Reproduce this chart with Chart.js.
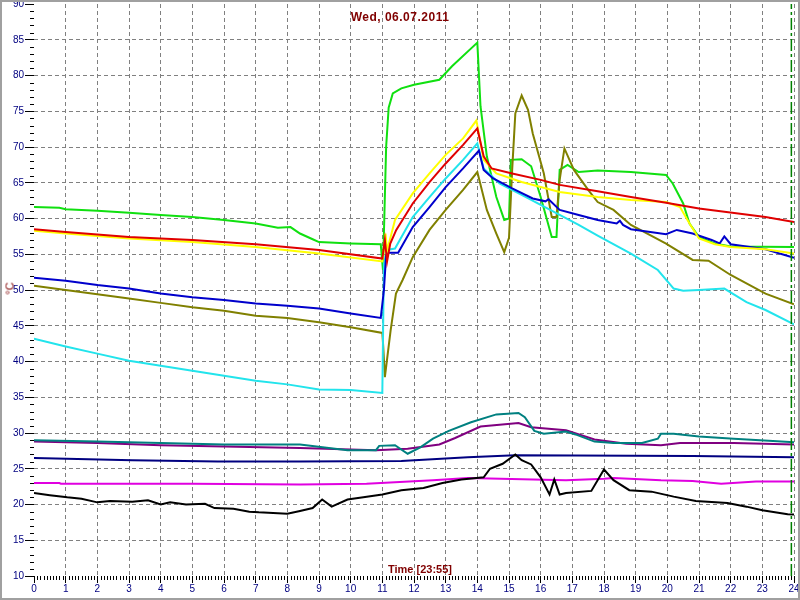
<!DOCTYPE html>
<html lang="de">
<head>
    <meta charset="UTF-8">
    <title>Wed, 06.07.2011</title>
    <script src="https://cdn.jsdelivr.net/npm/chart.js"></script>
    <style>
        body { margin: 0; background: #fff; }
        .wrap { position: relative; width: 800px; height: 600px; }
        canvas { position: absolute; left: 0; top: 0; }
        .lbl {
            position: absolute;
            font-family: "Liberation Sans", Arial, sans-serif;
            color: #800000;
            white-space: nowrap;
        }
        #title { left: 300px; width: 200px; top: 10px; text-align: center; font-size: 12px; font-weight: bold; letter-spacing: 0.5px; line-height: 14px; }
        #xtitle { left: 370px; width: 100px; top: 563px; text-align: center; font-size: 11px; font-weight: bold; line-height: 13px; }
        #ytitle { left: 0px; width: 20px; top: 282px; height: 13px; text-align: center; font-size: 11px; line-height: 13px; transform: rotate(-90deg); }
    </style>
</head>
<body>
<div class="wrap">
    <canvas id="tempChart" width="800" height="600"></canvas>
    <div class="lbl" id="title">Wed, 06.07.2011</div>
    <div class="lbl" id="xtitle">Time [23:55]</div>
    <div class="lbl" id="ytitle">°C</div>
</div>

<script>
    // Messwerte [Stunde, °C]
    const greenPts = [[0,61.6],[0.8,61.5],[1,61.3],[2,61.1],[3,60.8],[4,60.5],[5,60.2],[6,59.8],[7,59.3],[7.7,58.7],[8.1,58.8],[8.4,57.9],[8.8,57.1],[9,56.7],[10,56.5],[10.95,56.4],[11.02,52.8],[11.12,70],[11.2,75.5],[11.33,77.5],[11.6,78.2],[12,78.7],[12.8,79.4],[13.2,81.3],[14.0,84.6],[14.1,75.7],[14.3,68.7],[14.6,63.0],[14.85,59.8],[15.0,60.0],[15.06,68.2],[15.4,68.3],[15.7,67.3],[16.0,63.0],[16.35,57.4],[16.5,57.4],[16.6,66.8],[16.85,67.5],[17.2,66.5],[17.8,66.7],[18.85,66.5],[19.96,66.1],[20.17,64.9],[20.5,62.1],[20.7,59.3],[21.0,57.4],[21.5,56.5],[22,56.1],[24,56.0]];
    const redPts = [[0,58.5],[1,58.1],[3,57.4],[5,57.0],[7,56.4],[9,55.6],[11,54.4],[11.08,57.0],[11.15,54.0],[11.25,56.5],[11.44,58.4],[11.96,62.1],[12.49,65.1],[13.0,67.7],[13.55,70.3],[14.0,72.6],[14.2,68.7],[14.45,67.0],[15.1,66.3],[16.0,65.4],[16.6,64.7],[17.8,63.8],[18.85,63.0],[19.96,62.2],[21,61.4],[22.05,60.8],[23.1,60.2],[24,59.5]];
    const yellowPts = [[0,58.3],[1,57.9],[3,57.2],[5,56.7],[7,56.0],[9,55.1],[11,54.0],[11.06,56],[11.1,57.9],[11.15,55.5],[11.4,59.8],[11.96,63.5],[12.49,66.3],[13.0,68.9],[13.55,71.2],[13.97,73.7],[14.2,68.2],[14.6,66.3],[15.4,65.1],[16.0,64.4],[16.6,63.7],[17.8,63.0],[18.85,62.6],[19.96,62.3],[20.4,61.6],[20.7,59.3],[21,57.2],[21.5,56.4],[22,56.0],[23.1,55.7],[24,55.1]];
    const bluePts = [[0,51.7],[1,51.3],[2,50.7],[3,50.2],[4,49.5],[5,49.0],[6,48.6],[7,48.1],[8,47.8],[9,47.4],[10,46.7],[10.95,46.1],[11.05,50],[11.12,54.9],[11.2,55.2],[11.5,55.2],[11.96,58.8],[12.49,61.6],[13.0,64.4],[13.55,67.0],[14.05,69.5],[14.2,66.8],[14.5,65.6],[15.1,64.2],[15.75,62.8],[16.15,62.4],[16.25,62.7],[16.6,61.2],[17.2,60.5],[17.8,59.8],[18.4,59.3],[18.5,59.7],[18.6,59.1],[18.85,58.5],[19.96,57.8],[20.3,58.4],[20.8,57.9],[21.4,57.0],[21.65,56.5],[21.8,57.5],[22.0,56.4],[23.1,55.7],[24,54.5]];
    const cyanPts = [[0,43.2],[1,42.1],[2,41.1],[3,40.1],[4,39.4],[5,38.7],[6,38.0],[7,37.3],[8,36.8],[9,36.1],[10,36.0],[11.0,35.6],[11.05,53.7],[11.15,55.6],[11.4,55.8],[11.96,60.2],[12.49,63.0],[13.0,65.6],[13.55,68.2],[14.0,70.5],[14.2,67.0],[14.7,64.9],[15.4,63.3],[16.0,61.9],[16.6,60.5],[17.2,59.1],[17.8,57.6],[18.85,55.1],[19.7,52.8],[20.2,50.2],[20.5,49.9],[21.0,50.0],[21.8,50.2],[22.5,48.3],[23.1,47.2],[24,45.2]];
    const olivePts = [[0,50.6],[1,50.0],[2,49.4],[3,48.8],[4,48.2],[5,47.6],[6,47.1],[7,46.4],[8,46.1],[9,45.5],[10,44.8],[11,44.0],[11.03,42.0],[11.08,37.8],[11.26,44.3],[11.43,49.5],[11.64,51.4],[11.96,54.6],[12.49,58.4],[13.0,61.2],[13.55,64.0],[14.0,66.5],[14.3,61.2],[14.6,57.9],[14.85,55.3],[15.0,57.3],[15.1,66.8],[15.2,74.7],[15.4,77.2],[15.6,75.2],[15.75,71.9],[16.1,66.3],[16.35,60.2],[16.5,60.2],[16.6,65.4],[16.75,69.8],[17.05,66.8],[17.5,64.0],[17.8,62.3],[18.3,61.2],[18.85,59.1],[19.96,56.5],[20.8,54.2],[21.3,54.1],[22.0,52.1],[23.1,49.5],[24,48.0]];
    const tealPts = [[0,29.0],[2,28.8],[4,28.6],[6,28.4],[8.4,28.4],[9.9,27.6],[10.8,27.6],[10.9,28.2],[11.4,28.3],[11.8,27.1],[12.2,28.0],[12.6,29.2],[13.1,30.3],[13.8,31.5],[14.6,32.6],[15.3,32.8],[15.5,32.2],[15.8,30.3],[16.1,29.9],[16.8,30.2],[17.1,29.8],[17.7,28.8],[18.3,28.6],[19.2,28.6],[19.7,29.2],[19.8,29.9],[20.2,29.9],[21,29.5],[22.1,29.2],[23.2,28.9],[24,28.7]];
    const purplePts = [[0,28.8],[2,28.6],[4,28.3],[6,28.1],[8.4,27.9],[10.8,27.6],[11.8,27.8],[12.8,28.4],[13.3,29.3],[14.1,30.9],[15.3,31.4],[15.7,30.8],[16.8,30.4],[17.7,29.1],[18.7,28.5],[19.8,28.3],[20.4,28.6],[22.1,28.6],[24,28.4]];
    const navyPts = [[0,26.5],[3.1,26.2],[5.8,26.0],[8.4,26.0],[11.6,26.1],[13.7,26.6],[15.2,26.9],[20.8,26.8],[24,26.6]];
    const magentaPts = [[0,23.0],[0.8,23.0],[0.85,22.9],[5,22.9],[8.4,22.8],[10.5,22.9],[12.6,23.4],[13.7,23.7],[16.8,23.4],[18.0,23.6],[18.3,23.7],[19.8,23.4],[20.8,23.3],[21.7,22.9],[22.8,23.2],[24,23.2]];
    const blackPts = [[0,21.6],[0.5,21.3],[1.05,21.0],[1.5,20.8],[2,20.3],[2.4,20.5],[3.1,20.4],[3.6,20.6],[4,20.0],[4.3,20.3],[4.8,20.0],[5.4,20.1],[5.7,19.5],[6.3,19.4],[6.8,19.0],[7.1,18.9],[8,18.7],[8.4,19.1],[8.8,19.5],[9.1,20.7],[9.4,19.7],[9.9,20.7],[10.4,21.0],[11.0,21.4],[11.6,22.0],[12.3,22.3],[12.9,23.0],[13.5,23.5],[14.2,23.8],[14.4,25.0],[14.8,25.7],[15.2,27.0],[15.4,26.2],[15.7,25.6],[16.0,23.8],[16.28,21.4],[16.43,23.5],[16.6,21.4],[16.8,21.6],[17.6,21.9],[18.0,24.9],[18.3,23.4],[18.8,22.0],[19.5,21.8],[20.2,21.1],[20.9,20.5],[21.9,20.2],[22.5,19.7],[23.0,19.2],[23.8,18.65],[24,18.6]];

    // Achsen
    const hourTicks = ['0','1','2','3','4','5','6','7','8','9','10','11','12','13','14','15','16','17','18','19','20','21','22','23','24'];
    const tempMin = 10, tempMax = 90, tempStep = 5;
    const nowHour = 23 + 55 / 60;

    function line(data, color, width) {
        return { data: data, borderColor: color, borderWidth: width || 2, pointRadius: 0, tension: 0, fill: false };
    }

    // kleine Teilstriche + Rahmen
    const extras = {
        id: 'extras',
        afterDraw(chart) {
            const c = chart.ctx, a = chart.chartArea;
            const xs = chart.scales.x, ys = chart.scales.y;
            c.save();
            c.strokeStyle = '#000';
            c.lineWidth = 1;
            c.beginPath();
            for (let v = tempMin; v <= tempMax; v++) {
                if (v % tempStep === 0) continue;
                const y = Math.round(ys.getPixelForValue(v)) + 0.5;
                c.moveTo(a.left - 4, y); c.lineTo(a.left, y);
            }
            for (let i = 0; i <= 240; i++) {
                if (i % 10 === 0) continue;
                const x = Math.round(xs.getPixelForValue(i / 10)) + 0.5;
                c.moveTo(x, a.bottom); c.lineTo(x, a.bottom + 4);
            }
            c.stroke();
            c.strokeStyle = '#a0a0a0';
            c.lineWidth = 2;
            c.strokeRect(1, 1, chart.width - 2, chart.height - 2);
            c.restore();
        }
    };

    const ctx = document.getElementById('tempChart').getContext('2d');
    new Chart(ctx, {
        type: 'line',
        data: {
            datasets: [
                Object.assign(line([[nowHour, tempMin], [nowHour, tempMax]], '#008000', 1.5), { borderDash: [12, 3, 3, 3] }),
                line(blackPts, '#000000'),
                line(navyPts, '#000080'),
                line(magentaPts, '#e000e0'),
                line(tealPts, '#008080'),
                line(purplePts, '#800080'),
                line(redPts, '#e00000'),
                line(yellowPts, '#ffff00'),
                line(bluePts, '#0000cc'),
                line(cyanPts, '#22e4ec'),
                line(olivePts, '#808000'),
                line(greenPts, '#10e010')
            ]
        },
        options: {
            responsive: false,
            animation: false,
            devicePixelRatio: 1,
            layout: { padding: { top: 4, right: 6, left: 0, bottom: 0 } },
            plugins: { legend: { display: false }, tooltip: { enabled: false } },
            scales: {
                x: {
                    type: 'linear',
                    min: 0, max: 24,
                    afterBuildTicks: s => { s.ticks = hourTicks.map(t => ({ value: Number(t) })); },
                    afterFit: s => { s.height = 24; s.paddingLeft = 0; s.paddingRight = 0; },
                    ticks: {
                        autoSkip: false, maxRotation: 0, padding: 0,
                        color: '#000080',
                        font: { family: 'Liberation Sans', size: 10 },
                        callback: (v, i) => hourTicks[i]
                    },
                    grid: {
                        color: c => (c.tick && c.tick.value === 0) ? 'rgba(0,0,0,0)' : '#808080',
                        tickColor: '#000', tickLength: 7, lineWidth: 1
                    },
                    border: { display: false, dash: [4, 3] }
                },
                y: {
                    min: tempMin, max: tempMax,
                    afterFit: s => { s.width = 34; s.paddingTop = 0; s.paddingBottom = 0; },
                    ticks: {
                        stepSize: tempStep, padding: 1,
                        color: '#000080',
                        font: { family: 'Liberation Sans', size: 10 }
                    },
                    grid: {
                        color: c => (c.tick && (c.tick.value === tempMin || c.tick.value === tempMax)) ? 'rgba(0,0,0,0)' : '#808080',
                        tickColor: '#000', tickLength: 9, lineWidth: 1
                    },
                    border: { display: false, dash: [4, 3] }
                }
            }
        },
        plugins: [extras]
    });
</script>
</body>
</html>
